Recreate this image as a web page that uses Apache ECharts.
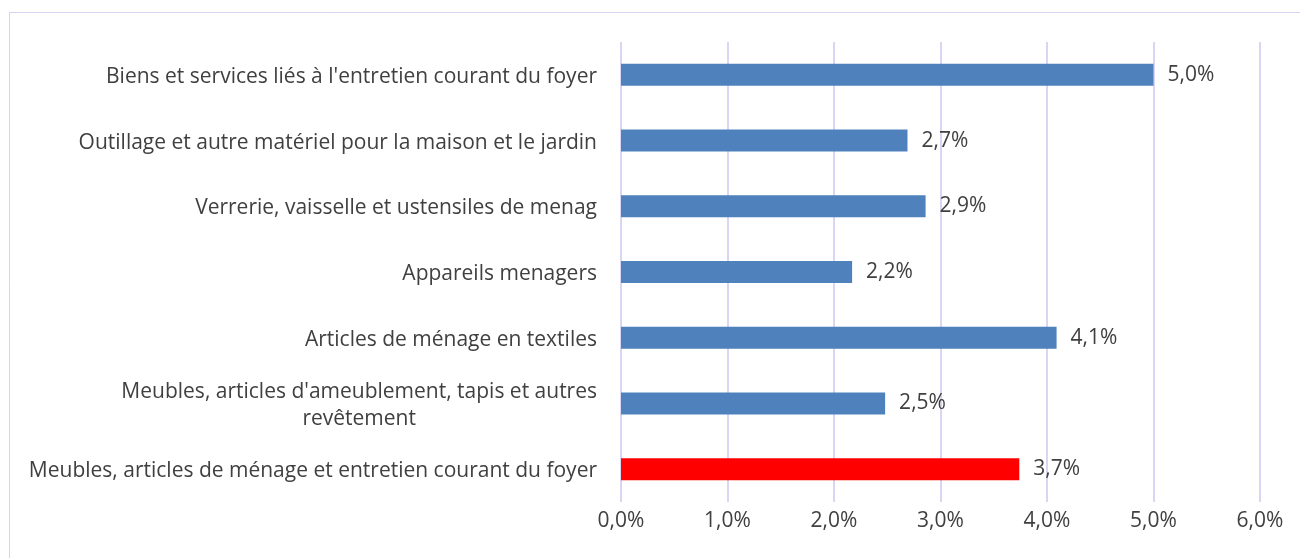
<!DOCTYPE html>
<html>
<head>
<meta charset="utf-8">
<script src="https://cdn.jsdelivr.net/npm/echarts@6/dist/echarts.min.js"></script>
<style>
    html, body { margin: 0; padding: 0; background: #fff; }
    #chart { width: 1300px; height: 558px; }
</style>
</head>
<body>
<div id="chart"></div>
<script>
const chart = echarts.init(document.getElementById('chart'));

// categories, top to bottom
const categories = [
    "Biens et services liés à l'entretien courant du foyer",
    "Outillage et autre matériel pour la maison et le jardin",
    "Verrerie, vaisselle et ustensiles de menag",
    "Appareils menagers",
    "Articles de ménage en textiles",
    "Meubles, articles d'ameublement, tapis et autres\nrevêtement",
    "Meubles, articles de ménage et entretien courant du foyer"
];
// values in %
const values = [5.0, 2.69, 2.86, 2.17, 4.09, 2.48, 3.74];
const xTicks = [0, 1, 2, 3, 4, 5, 6];

const fmt = v => v.toFixed(1).replace('.', ',') + '%';
const font = "'Open Sans', sans-serif";
const fs = 21;

var barData = values.map((v, i) => ({
    value: v,
    itemStyle: { color: i === values.length - 1 ? '#ff0000' : '#4f81bd' }
}));

var option = {
    animation: false,
    textStyle: { fontFamily: font },
    graphic: [{
        type: 'rect',
        shape: { x: 9.5, y: 12.5, width: 1300, height: 560 },
        style: { fill: 'none', stroke: '#d6d2ef', lineWidth: 1 },
        silent: true
    }],
    grid: {
        left: 621,
        right: 40,
        top: 42,
        bottom: 56
    },
    xAxis: {
        type: 'value',
        min: xTicks[0],
        max: xTicks[xTicks.length - 1],
        interval: 1,
        axisLine: { show: false },
        axisTick: { show: false },
        splitLine: { lineStyle: { color: '#cdc7ee', width: 1.5 } },
        axisLabel: {
            formatter: v => fmt(v),
            color: '#404040',
            fontSize: fs,
            fontFamily: font,
            margin: 9
        }
    },
    yAxis: {
        type: 'category',
        inverse: true,
        data: categories,
        axisLine: { show: false },
        axisTick: { show: false },
        axisLabel: {
            color: '#404040',
            fontSize: fs,
            fontFamily: font,
            margin: 24,
            lineHeight: 27,
            padding: [4, 0, 0, 0],
            formatter: function (v) {
                if (v.indexOf('\n') < 0) return v;
                return v.split('\n').map(s => '{c|' + s + '}').join('\n');
            },
            rich: {
                c: { align: 'center', color: '#404040', fontSize: fs, fontFamily: font, lineHeight: 27 }
            }
        }
    },
    series: [{
        type: 'bar',
        data: barData,
        barWidth: 22,
        label: {
            show: true,
            position: 'right',
            distance: 14,
            padding: [4, 0, 0, 0],
            color: '#404040',
            fontSize: fs,
            fontFamily: font,
            formatter: p => fmt(p.value)
        }
    }]
};

chart.setOption(option);
</script>
</body>
</html>
